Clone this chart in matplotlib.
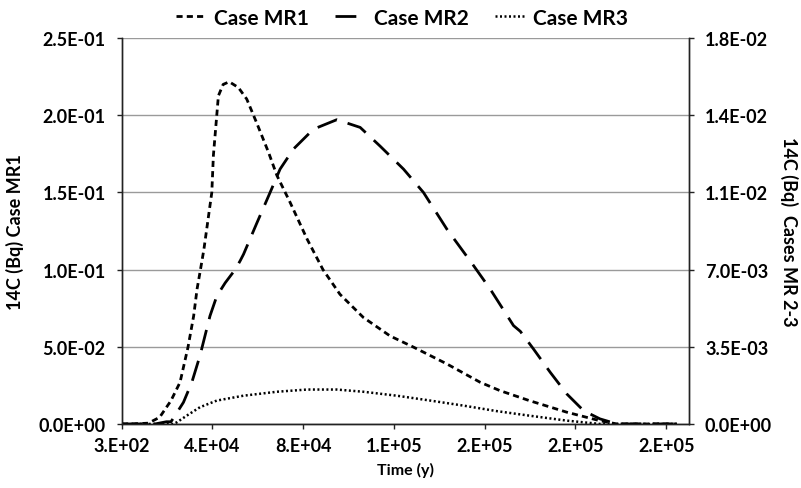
import matplotlib
matplotlib.use("Agg")
import matplotlib.pyplot as plt

plt.rcParams['font.family'] = ['Lato', 'DejaVu Sans']
plt.rcParams['font.weight'] = 'bold'

# ---- data ----
mr1_x = [300, 5000, 12000, 17000, 22000, 26000, 28000, 29500, 32000, 33500, 35000,
         36500, 40000, 40700, 41900, 42900, 45000, 47700, 51700, 55400, 59800, 65000,
         68700, 74500, 82000, 89000, 96500, 106800, 118600, 129000, 143600, 158300,
         167000, 180000, 196500, 211000, 218600, 230000, 245000]
mr1_y = [0, 0, 0.0005, 0.0043, 0.0151, 0.027, 0.040, 0.0497, 0.070, 0.0874, 0.100,
         0.113, 0.150, 0.174, 0.195, 0.2126, 0.220, 0.2217, 0.218, 0.2105, 0.195, 0.176,
         0.161, 0.1436, 0.1198, 0.100, 0.084, 0.069, 0.057, 0.0497, 0.0389, 0.027,
         0.0216, 0.0151, 0.0076, 0.0021, 0, 0, 0]

mr2_x = [300, 15000, 20000, 22000, 23800, 27500, 31200, 34800, 37000, 39200, 42200,
         45900, 50300, 52500, 54000, 59800, 65700, 70100, 76000, 84800, 95100, 105400,
         114200, 124500, 133300, 143600, 155400, 162700, 173000, 176000, 181800, 189200,
         196500, 203900, 211100, 218600, 230000, 245000]
mr2_y = [0, 0, 0.0001, 0.0001, 0.00038, 0.00098, 0.00189, 0.0031, 0.0040, 0.0049, 0.0058,
         0.0064, 0.0070, 0.0074, 0.0077, 0.0091, 0.0105, 0.01156, 0.01247, 0.01337, 0.0138,
         0.01345, 0.0126, 0.01156, 0.0105, 0.00884, 0.00718, 0.00612, 0.00446, 0.0042,
         0.0034, 0.00234, 0.00136, 0.0006, 0.00023, 0, 0, 0]

mr3_x = [300, 20000, 22900, 24600, 29000, 34800, 42200, 53900, 68700, 81900, 95100,
         106800, 121600, 136300, 151000, 165700, 180400, 196500, 211100, 230000, 245000]
mr3_y = [0, 0, 0, 0.000075, 0.00038, 0.00076, 0.00106, 0.00128, 0.00146, 0.00156, 0.00156,
         0.00146, 0.00128, 0.00106, 0.00083, 0.00058, 0.00037, 0.00015, 0, 0, 0]

x_ticks = [300, 40300, 80300, 120300, 160300, 200300, 240300]
x_tick_labels = ['3.E+02', '4.E+04', '8.E+04', '1.E+05', '2.E+05', '2.E+05', '2.E+05']
left_ticks = [0, 0.05, 0.10, 0.15, 0.20, 0.25]
left_tick_labels = ['0.0E+00', '5.0E-02', '1.0E-01', '1.5E-01', '2.0E-01', '2.5E-01']
right_ticks = [0, 0.0035, 0.007, 0.0105, 0.014, 0.0175]
right_tick_labels = ['0.0E+00', '3.5E-03', '7.0E-03', '1.1E-02', '1.4E-02', '1.8E-02']

# ---- figure ----
fig = plt.figure(figsize=(8.01, 4.89), dpi=100)
ax = fig.add_axes([0.152, 0.131, 0.708, 0.789])
ax2 = ax.twinx()

l1, = ax.plot(mr1_x, mr1_y, color='black', lw=2.0, linestyle=(0, (2.2, 1.5)),
              label='Case MR1')
l2, = ax2.plot(mr2_x, mr2_y, color='black', lw=2.0, linestyle=(0, (7.5, 4.0)),
               label='Case MR2')
l3, = ax2.plot(mr3_x, mr3_y, color='black', lw=1.8, linestyle=(0, (0.8, 1.0)),
               label='Case MR3')

ax.set_xlim(300, 250300)
ax.set_ylim(0, 0.25)
ax2.set_ylim(0, 0.0175)

ax.set_xticks(x_ticks)
ax.set_xticklabels(x_tick_labels)
ax.set_yticks(left_ticks)
ax.set_yticklabels(left_tick_labels)
ax2.set_yticks(right_ticks)
ax2.set_yticklabels(right_tick_labels)

ax.yaxis.grid(True, color='#9a9a9a', lw=1.0)
ax.set_axisbelow(True)

for a in (ax, ax2):
    a.spines['top'].set_visible(False)
    for s in ('left', 'bottom', 'right'):
        a.spines[s].set_color('#222222')
        a.spines[s].set_linewidth(1.0)
    a.tick_params(direction='out', length=3.6, width=1, colors='#222222',
                  labelsize=13, labelcolor='black')
ax.tick_params(axis='x', pad=6)
ax.tick_params(axis='y', pad=8)
ax2.tick_params(axis='y', pad=8)

ax.set_xlabel('Time (y)', fontsize=11.5, fontweight='bold')
ax.xaxis.set_label_coords(0.5, -0.098)
ax.set_ylabel('14C (Bq) Case MR1', fontsize=13, fontweight='bold', va='center')
ax.yaxis.set_label_coords(-0.188, 0.5)
ax2.set_ylabel('14C (Bq)  Cases MR 2-3', fontsize=13, fontweight='bold',
               rotation=-90, va='center')
ax2.yaxis.set_label_coords(1.176, 0.5)

fig.legend(handles=[l1, l2, l3], loc='center', bbox_to_anchor=(0.502, 0.962),
           ncol=3, frameon=False, handlelength=1.4, columnspacing=1.25,
           handletextpad=0.45, borderpad=0.2, prop={'weight': 'bold', 'size': 15})

fig.savefig('out.png', dpi=100)
